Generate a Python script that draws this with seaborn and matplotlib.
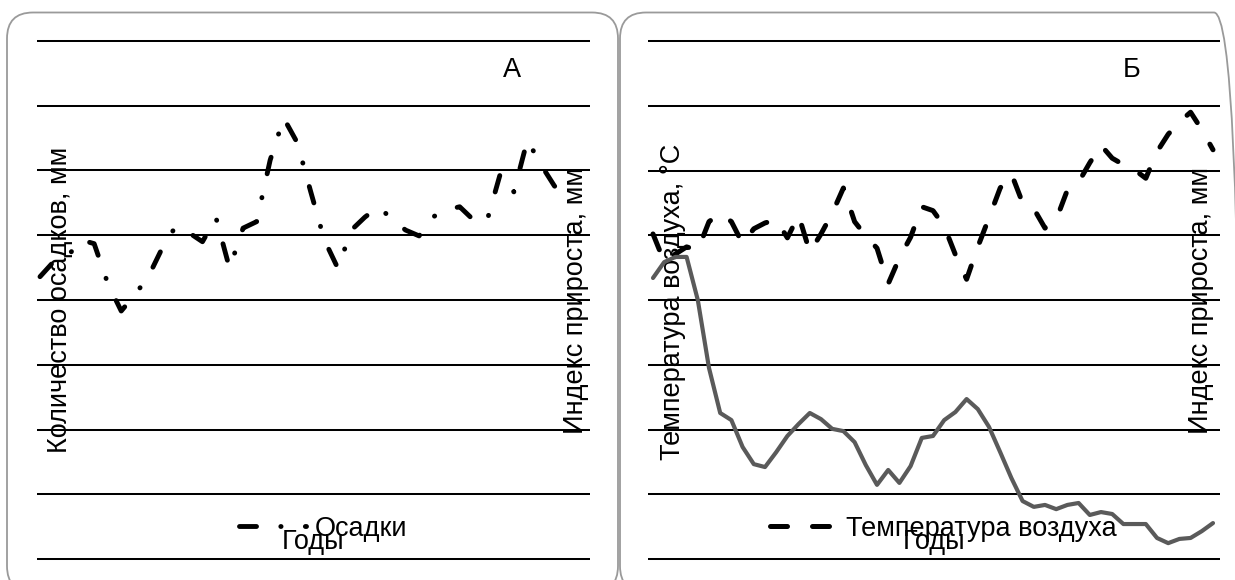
import matplotlib
matplotlib.use("Agg")
import matplotlib.pyplot as plt
import seaborn as sns
from matplotlib.patches import FancyBboxPatch
from matplotlib.transforms import IdentityTransform
from matplotlib.lines import Line2D

# ---------------- data ----------------
years_a = list(range(1971, 2011))
precip_mm = [436, 459, 466, 493, 487, 426, 383, 408, 436, 479,
             513, 504, 490, 527, 449, 511, 521, 616, 681, 643,
             567, 493, 449, 508, 528, 544, 525, 508, 499, 528,
             539, 544, 524, 521, 595, 567, 647, 609, 576, 561]

years_b = list(range(1960, 2011))
temp_c = [1.02, 0.59, 0.71, 0.82, 0.77, 1.21, 1.34, 1.21, 0.87, 1.10,
          1.19, 1.24, 0.96, 1.31, 0.74, 1.02, 1.34, 1.73, 1.21, 0.99,
          0.80, 0.25, 0.65, 0.97, 1.44, 1.38, 1.14, 0.70, 0.32, 0.82,
          1.27, 1.73, 1.95, 1.50, 1.41, 1.11, 1.24, 1.70, 1.82, 2.12,
          2.39, 2.19, 2.09, 2.01, 1.88, 2.29, 2.56, 2.75, 2.90, 2.63,
          2.32]
growth_index = [0.868, 0.917, 0.933, 0.933, 0.800, 0.590, 0.451, 0.429, 0.346, 0.293,
                0.284, 0.330, 0.380, 0.417, 0.451, 0.432, 0.402, 0.395, 0.361, 0.290,
                0.229, 0.275, 0.235, 0.287, 0.374, 0.380, 0.429, 0.454, 0.494, 0.463,
                0.408, 0.330, 0.250, 0.179, 0.161, 0.167, 0.154, 0.167, 0.173, 0.136,
                0.145, 0.139, 0.108, 0.108, 0.108, 0.065, 0.049, 0.062, 0.065, 0.086,
                0.111]

panel_titles = ["А", "Б"]
xlabel_text = "Годы"
ylabel_a = "Количество осадков, мм"
ylabel_b = "Температура воздуха, °C"
ylabel_right = "Индекс прироста, мм"
legend_a = "Осадки"
legend_b = "Температура воздуха"

# ---------------- style ----------------
plt.rcParams["font.family"] = ["Liberation Sans", "DejaVu Sans"]
FS = 19.5
W, H = 1235, 580
AX_TOP, AX_BOT = 35, 565
GRID_TOP, GRID_BOT = 41, 559
AXH = AX_BOT - AX_TOP

fig = plt.figure(figsize=(W / 100, H / 100), dpi=100)
fig.patch.set_facecolor("white")


def make_axes(x0, x1):
    return fig.add_axes([x0 / W, (H - AX_BOT) / H, (x1 - x0) / W, AXH / H])


def ylim_for(lo, hi):
    per = (hi - lo) / (GRID_BOT - GRID_TOP)
    return lo - (AX_BOT - GRID_BOT) * per, hi + (GRID_TOP - AX_TOP) * per


def fx(px):
    return px / W


def fy(py):
    return 1 - py / H


# rounded panel frames
for (x0, x1) in [(7, 618), (620, 1240)]:
    p = FancyBboxPatch((x0, H - 592), x1 - x0, 592 - 12.5,
                       boxstyle="round,pad=0,rounding_size=26",
                       transform=IdentityTransform(), fill=False,
                       edgecolor="#9a9a9a", lw=1.3)
    fig.add_artist(p)

DASH_A = (0, (3.5, 5.0, 0.05, 5.0))
DASH_B = (0, (3.4, 5.0))

# ---------------- panel A ----------------
axA = make_axes(37, 590)
sns.lineplot(x=years_a, y=precip_mm, ax=axA, color="black", lw=3.5,
             linestyle=DASH_A, dash_capstyle="round", dash_joinstyle="round")
axA.set_xlim(1971 - 3 / 13.538, 2010 + 22 / 13.538)
axA.set_ylim(*ylim_for(0, 800))
axA.set_yticks(range(0, 801, 100))
axA.grid(axis="y", color="black", lw=1.45)

axA2 = axA.twinx()
axA2.set_ylim(*ylim_for(0, 1.6))

axA.set_xlabel(xlabel_text, fontsize=FS)
axA.xaxis.label.set_va("baseline")
axA.xaxis.set_label_coords(0.5, (AX_BOT - 549) / AXH)
axA.set_ylabel(ylabel_a, fontsize=FS)
axA.yaxis.label.set_va("baseline")
axA.yaxis.set_label_coords((67 - 37) / 553, (AX_BOT - 300) / AXH)
axA2.set_ylabel(ylabel_right, fontsize=FS)
axA2.yaxis.label.set_va("baseline")
axA2.yaxis.set_label_coords((583 - 37) / 553, (AX_BOT - 300) / AXH)
axA.text((512 - 37) / 553, (AX_BOT - 77) / AXH, panel_titles[0],
         transform=axA.transAxes, ha="center", va="baseline", fontsize=FS)

hA = Line2D([], [], color="black", lw=3.5, linestyle=DASH_A,
            dash_capstyle="round")
axA.legend(handles=[hA], labels=[legend_a], loc="center left",
           bbox_to_anchor=(fx(238.5), fy(528.5)), bbox_transform=fig.transFigure,
           frameon=False, borderpad=0, borderaxespad=0, handlelength=2.48,
           handletextpad=0.33, fontsize=FS)

# ---------------- panel B ----------------
axB = make_axes(648, 1220)
sns.lineplot(x=years_b, y=temp_c, ax=axB, color="black", lw=3.6,
             linestyle=DASH_B, dash_capstyle="round", dash_joinstyle="round")
axB.set_xlim(1960 - 5 / 11.2, 2010 + 7 / 11.2)
axB.set_ylim(*ylim_for(-4, 4))
axB.set_yticks(range(-4, 5, 1))
axB.grid(axis="y", color="black", lw=1.45)

axB2 = axB.twinx()
sns.lineplot(x=years_b, y=growth_index, ax=axB2, color="#5a5a5a", lw=3.0,
             solid_capstyle="round", solid_joinstyle="round")
axB2.set_ylim(*ylim_for(0, 1.6))

axB.set_xlabel(xlabel_text, fontsize=FS)
axB.xaxis.label.set_va("baseline")
axB.xaxis.set_label_coords(0.5, (AX_BOT - 549) / AXH)
axB.set_ylabel(ylabel_b, fontsize=FS)
axB.yaxis.label.set_va("baseline")
axB.yaxis.set_label_coords((680 - 648) / 572, (AX_BOT - 301.5) / AXH)
axB2.set_ylabel(ylabel_right, fontsize=FS)
axB2.yaxis.label.set_va("baseline")
axB2.yaxis.set_label_coords((1208 - 648) / 572, (AX_BOT - 300) / AXH)
axB.text((1131.5 - 648) / 572, (AX_BOT - 77) / AXH, panel_titles[1],
         transform=axB.transAxes, ha="center", va="baseline", fontsize=FS)

hB = Line2D([], [], color="black", lw=3.6, linestyle=DASH_B,
            dash_capstyle="round")
axB.legend(handles=[hB], labels=[legend_b], loc="center left",
           bbox_to_anchor=(fx(769.5), fy(528.5)), bbox_transform=fig.transFigure,
           frameon=False, borderpad=0, borderaxespad=0, handlelength=2.48,
           handletextpad=0.33, fontsize=FS)

for a in (axA, axA2, axB, axB2):
    a.tick_params(axis="both", which="both", length=0, labelleft=False,
                  labelright=False, labelbottom=False, labeltop=False)
    for s in a.spines.values():
        s.set_visible(False)
    a.patch.set_visible(False)

fig.savefig("out.png", dpi=100)
